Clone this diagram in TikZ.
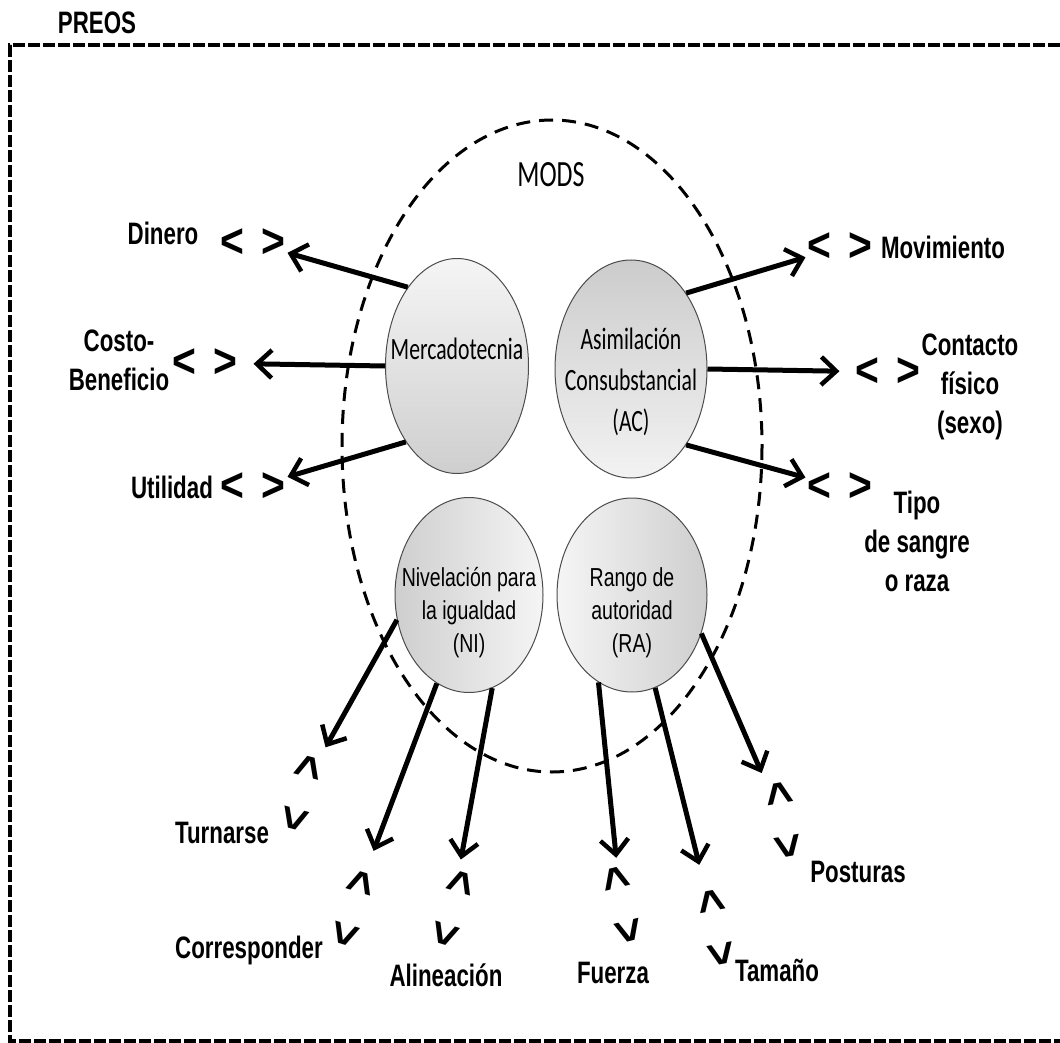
\documentclass[tikz,border=0pt]{standalone}
\usepackage{fontspec}
\setmainfont{Liberation Sans}
\newfontfamily\lblfont{Liberation Sans}[FakeStretch=0.72]
\newfontfamily\modfont{Carlito}[FakeStretch=0.7]
\newfontfamily\nivfont{Liberation Sans}[FakeStretch=0.75]
\newfontfamily\glyfont{Liberation Sans}[FakeStretch=0.85]
\usepackage{tikz}
\usetikzlibrary{arrows.meta,positioning,shapes.geometric}
\newcommand{\modtext}[2]{\makebox[0pt]{\raisebox{#1}[0pt][0pt]{\begin{tabular}{@{}c@{}}#2\end{tabular}}}}

\begin{document}
\begin{tikzpicture}[
  x=1pt, y=-1pt,
  lbl/.style={font=\lblfont\bfseries\fontsize{31}{39}\selectfont, align=center, inner sep=0pt},
  modlbl/.style={font=\modfont\fontsize{37}{40}\selectfont, inner sep=0pt},
  pair/.style={font=\glyfont\bfseries\fontsize{48}{48}\selectfont, inner sep=2pt},
  modA/.style={ellipse, draw=black!70, line width=1pt, inner sep=0pt,
               font=\modfont\fontsize{31}{41}\selectfont},
  modB/.style={ellipse, draw=black!70, line width=1pt, inner sep=0pt,
               font=\nivfont\fontsize{26}{33}\selectfont},
  arr/.style={line width=5pt, -{Straight Barb[length=15pt,width=28pt,line width=4.5pt]}},
]
\useasboundingbox (0,0) rectangle (1060,1043);

% PREOS frame (open to the right)
\draw[line width=4pt, dash pattern=on 12pt off 3pt] (1075,45) -- (10,45) -- (10,1041) -- (1075,1041);
\node[lbl] (preos) at (97,23) {PREOS};

% MODS ellipse
\draw[line width=3pt, dash pattern=on 14pt off 9pt] (552,446) ellipse [x radius=210, y radius=326];
\node[modlbl] (mods) at (551,175) {MODS};

% Row 1: upper circles
\node[modA, minimum width=143pt, minimum height=215pt, top color=gray!8, bottom color=gray!38] (merc) at (457,366)
  {\modtext{8pt}{Mercadotecnia}};
\node[modA, minimum width=152pt, minimum height=218pt, top color=gray!40, bottom color=gray!10] (asim) at (631,369)
  {\modtext{-20pt}{Asimilación\\Consubstancial\\(AC)}};

% Row 2: lower circles
\node[modB, minimum width=148pt, minimum height=195pt, left color=gray!38, right color=gray!8] (nivel) at (469,595)
  {\modtext{-24pt}{Nivelación para\\la igualdad\\(NI)}};
\node[modB, minimum width=150pt, minimum height=194pt, left color=gray!8, right color=gray!38] (rango) at (632,595)
  {\modtext{-24pt}{Rango de\\autoridad\\(RA)}};

% Left: Mercadotecnia
\node[pair] (dinP) at (253,243) {<\kern17pt>};
\node[lbl] (dinL) at (163,233) {Dinero};
\node[pair] (cosP) at (205,363) {<\kern17pt>};
\node[lbl] (cosL) at (119,360) {Costo-\\Beneficio};
\node[pair] (utiP) at (253,487) {<\kern17pt>};
\node[lbl] (utiL) at (172,487) {Utilidad};

% Right: Asimilacion
\node[pair] (movP) at (840,247) {<\kern17pt>};
\node[lbl] (movL) at (943,247) {Movimiento};
\node[pair] (conP) at (888,372) {<\kern17pt>};
\node[lbl] (conL) at (970,387) {Contacto\\físico\\(sexo)};
\node[pair] (tipP) at (840,487) {<\kern17pt>};
\node[lbl] (tipL) at (917,541) {Tipo\\de sangre\\o raza};

% Bottom: Nivelacion
\node[pair, rotate=-105] (turP) at (300,793) {<\kern30pt>};
\node[lbl] (turL) at (222,833) {Turnarse};
\node[pair, rotate=-107] (corP) at (352,908) {<\kern30pt>};
\node[lbl] (corL) at (249,950) {Corresponder};
\node[pair, rotate=-107] (aliP) at (452,908) {<\kern30pt>};
\node[lbl] (aliL) at (446,975) {Alineación};

% Bottom: Rango
\node[pair, rotate=-76] (fueP) at (621,905) {<\kern30pt>};
\node[lbl] (fueL) at (613,973) {Fuerza};
\node[pair, rotate=-79] (tamP) at (715,928) {<\kern30pt>};
\node[lbl] (tamL) at (777,970) {Tamaño};
\node[pair, rotate=-80] (posP) at (782,820) {<\kern30pt>};
\node[lbl] (posL) at (858,872) {Posturas};

% Arrows
\draw[arr] (merc.122.7) -- (dinP);
\draw[arr, shorten >=14pt] (merc.180) -- (cosP);
\draw[arr] (merc.236) -- (utiP);
\draw[arr] (asim.54) -- (movP);
\draw[arr, shorten >=14pt] (asim.0) -- (conP);
\draw[arr] (asim.306) -- (tipP);
\draw[arr, shorten >=10pt] (nivel.199) -- (turP);
\draw[arr, shorten >=20pt] (nivel.250) -- (corP);
\draw[arr, shorten >=8pt] (nivel.284) -- (aliP);
\draw[arr, shorten >=6pt] (rango.249) -- (fueP);
\draw[arr, shorten >=24pt] (rango.284) -- (tamP);
\draw[arr, shorten >=9pt] (rango.331) -- (posP);
\end{tikzpicture}
\end{document}
